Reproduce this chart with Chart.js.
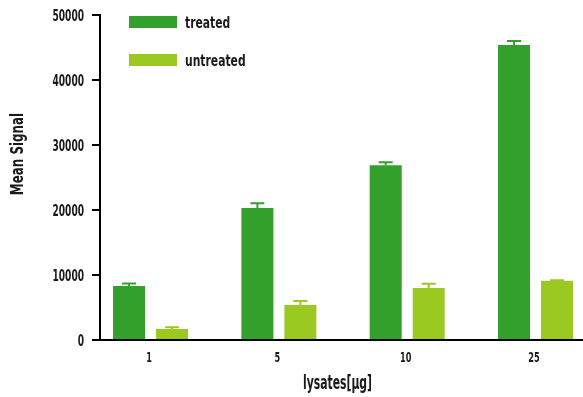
<!DOCTYPE html>
<html><head><meta charset="utf-8">
<script src="https://cdn.jsdelivr.net/npm/chart.js@4/dist/chart.umd.min.js"></script>
<style>html,body{margin:0;padding:0;background:#fff}#wrap{width:583px;height:397px}</style>
</head><body><div id="wrap"><canvas id="c" width="583" height="397"></canvas></div>
<script>
const categories = ['1', '5', '10', '25'];
const treated = [8300, 20300, 26900, 45400];
const treatedErr = [400, 750, 450, 600];
const untreated = [1700, 5400, 8000, 9100];
const untreatedErr = [250, 600, 650, 100];
const yTicks = [0, 10000, 20000, 30000, 40000, 50000];
const seriesNames = ['treated', 'untreated'];
const colors = ['#33a02c', '#9bc921'];
const xTitle = 'lysates[μg]';
const yTitle = 'Mean Signal';

const FAMILY = '"DejaVu Sans", sans-serif';
const errs = [treatedErr, untreatedErr];

function txt(ctx, s, x, y, size, sx, align, rot) {
  ctx.save();
  ctx.translate(x, y);
  if (rot) ctx.rotate(rot);
  ctx.scale(sx, 1);
  ctx.font = 'bold ' + size + 'px ' + FAMILY;
  ctx.textAlign = align;
  ctx.textBaseline = 'alphabetic';
  ctx.fillStyle = '#1a1a1a';
  ctx.fillText(s, 0, 0);
  ctx.restore();
}

const errorBars = {
  id: 'errorBars',
  afterDatasetsDraw(chart) {
    const ctx = chart.ctx, ys = chart.scales.y;
    chart.data.datasets.forEach((ds, i) => {
      const meta = chart.getDatasetMeta(i);
      meta.data.forEach((el, j) => {
        const top = ys.getPixelForValue(ds.data[j].y + errs[i][j]);
        ctx.save();
        ctx.strokeStyle = colors[i];
        ctx.lineWidth = 2;
        ctx.beginPath();
        ctx.moveTo(el.x, el.y);
        ctx.lineTo(el.x, top);
        ctx.moveTo(el.x - 7, top);
        ctx.lineTo(el.x + 7, top);
        ctx.stroke();
        ctx.restore();
      });
    });
  }
};

const extras = {
  id: 'extras',
  afterDraw(chart) {
    const ctx = chart.ctx, a = chart.chartArea;
    const xs = chart.scales.x, ys = chart.scales.y;
    yTicks.forEach(v => {
      txt(ctx, String(v), a.left - 16, ys.getPixelForValue(v) + 5.7, 15.5, 0.585, 'right');
    });
    categories.forEach((c, k) => {
      txt(ctx, c, xs.getPixelForValue(k) - 1.5, a.bottom + 22, 14, 0.585, 'center');
    });
    seriesNames.forEach((n, i) => {
      const y = a.top + 1 + i * 38;
      ctx.fillStyle = colors[i];
      ctx.fillRect(a.left + 29, y, 48, 12);
      txt(ctx, n, a.left + 85, y + 12, 16, 0.674, 'left');
    });
    txt(ctx, xTitle, (a.left + a.right) / 2 - 4, 389, 19, 0.57, 'center');
    txt(ctx, yTitle, 23, 154, 17, 0.70, 'center', -Math.PI / 2);
  }
};

const datasets = seriesNames.map((n, i) => ({
  label: n,
  data: (i === 0 ? treated : untreated).map((v, k) => ({ x: k, y: v })),
  backgroundColor: colors[i],
  borderWidth: 0,
  categoryPercentage: 0.67,
  barPercentage: 0.745
}));

new Chart(document.getElementById('c'), {
  type: 'bar',
  data: { datasets },
  plugins: [errorBars, extras],
  options: {
    responsive: false,
    animation: false,
    layout: { padding: { top: 15, right: 0, left: 0, bottom: 0 } },
    plugins: { legend: { display: false }, tooltip: { enabled: false } },
    scales: {
      x: {
        type: 'linear',
        offset: false,
        min: -0.394,
        max: 3.37,
        afterBuildTicks(s) { s.ticks = categories.map((c, k) => ({ value: k })); },
        afterFit(s) { s.height = 57; },
        ticks: { display: false },
        grid: { display: true, offset: false, drawOnChartArea: false, drawTicks: false },
        border: { color: '#000', width: 2 }
      },
      y: {
        min: 0,
        max: 50000,
        afterBuildTicks(s) { s.ticks = yTicks.map(v => ({ value: v })); },
        afterFit(s) { s.width = 100; },
        ticks: { display: false },
        grid: { drawOnChartArea: false, drawTicks: true, tickLength: 8, color: '#000', lineWidth: 2 },
        border: { color: '#000', width: 2 }
      }
    }
  }
});
</script>
</body></html>
